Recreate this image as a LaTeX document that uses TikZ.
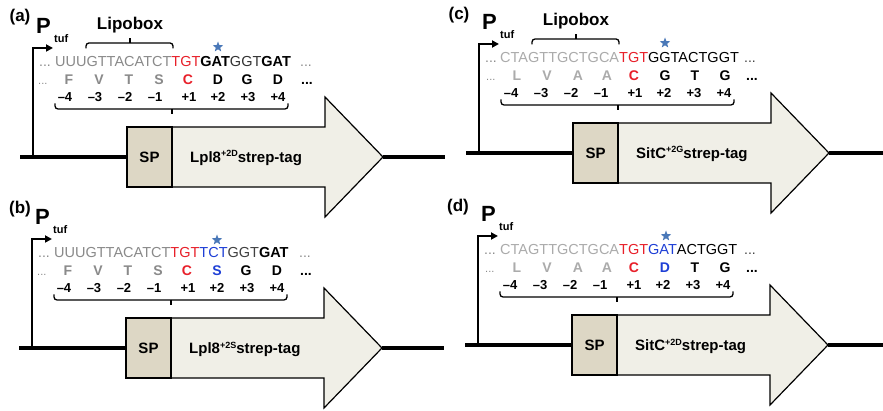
\documentclass[tikz,border=0pt]{standalone}
\usepackage{fontspec}
\setmainfont{Liberation Sans}
\usetikzlibrary{arrows.meta,shapes.geometric}
\definecolor{redc}{HTML}{E8202A}
\definecolor{bluec}{HTML}{1E3FD6}
\definecolor{starc}{HTML}{4A78B8}
\definecolor{grayA}{HTML}{8A8A8A}
\definecolor{grayC}{HTML}{ABABAB}
\definecolor{spfill}{HTML}{DDD7C5}
\definecolor{genefill}{HTML}{F0EFE7}
\tikzset{
 lbl/.style={font=\fontsize{17}{17}\selectfont\bfseries, inner sep=0},
 ptxt/.style={font=\fontsize{22}{22}\selectfont\bfseries, inner sep=0, anchor=base west},
 tuf/.style={font=\fontsize{11}{11}\selectfont\bfseries, inner sep=0, anchor=base west},
 lipo/.style={font=\fontsize{17}{17}\selectfont\bfseries, inner sep=0, anchor=base},
 seq/.style={font=\fontsize{14.5}{15}\selectfont, inner sep=0, anchor=base west},
 dots/.style={font=\fontsize{14}{14}\selectfont, inner sep=0, anchor=base west},
 aa/.style={font=\fontsize{14}{14}\selectfont\bfseries, inner sep=0, anchor=base},
 num/.style={font=\fontsize{13}{13}\selectfont\bfseries, inner sep=0, anchor=base},
 brace/.style={line width=1.3pt},
 spbox/.style={draw, line width=1.2pt, fill=spfill, minimum width=45pt, minimum height=60pt, inner sep=0, outer sep=0, font=\fontsize{15}{15}\selectfont\bfseries},
 genebody/.style={draw, line width=1.2pt, fill=genefill, line join=miter},
 gtext/.style={font=\fontsize{15}{15}\selectfont\bfseries, inner sep=0, anchor=base west},
 baseln/.style={line width=3.5pt},
 prom/.style={line width=2.5pt, -{Triangle[length=7pt,width=7pt]}},
 divider/.style={line width=2.5pt},
 staricon/.style={star, star points=5, star point ratio=2.4, fill=starc, inner sep=0, minimum size=11pt},
}
% gene part: #1 prefix, #2 label, #3 right end x
\newcommand\genegroup[3]{%
  \filldraw[genebody] (172,127) -- (325,127) -- (325,97) -- (383,157) -- (325,217) -- (325,187) -- (172,187) -- cycle;
  \node[spbox] (#1sp) at (149.5,157) {SP};
  \coordinate (#1tip) at (383,157);
  \coordinate (#1end) at (#3,157);
  \coordinate (#1start) at (20,157);
  \coordinate (#1pb) at (33,157);
  \coordinate (#1pe) at (53,48);
  \draw[divider] (#1sp.north east) -- (#1sp.south east);
  \draw[baseln] (#1start) -- (#1sp.west);
  \draw[baseln] (#1tip) -- (#1end);
  \draw[prom] (#1pb) |- (#1pe);
  \node[ptxt] (#1P) at (36,34) {P};
  \node[tuf] (#1tuf) at (54,43) {tuf};
  \node[gtext] (#1gene) at (190,162.5) {#2};
}
% numbers and lower bracket
\newcommand\numgroup[1]{%
  \foreach \x/\t in {65/–4, 95/–3, 125/–2, 155/–1, 189/+1, 218/+2, 248/+3, 278/+4}
    \node[num] (#1n\x) at (\x,102) {\t};
  \draw[brace, rounded corners=3pt] (55,103.5) -- (55,109) -- (288,109) -- (288,103.5);
  \draw[brace] (172,109) -- (172,114);
}
\newcommand\lipogroup[1]{%
  \node[lipo] (#1lipo) at (130,30) {Lipobox};
  \draw[brace, rounded corners=3pt] (86,48.5) -- (86,43) -- (173,43) -- (173,48.5);
  \draw[brace] (130,43) -- (130,38.5);
}
\begin{document}
\begin{tikzpicture}[x=1pt,y=-1pt]
\useasboundingbox (0,0) rectangle (883,411);
\fill[white] (0,0) rectangle (883,411);

% panel labels
\node[lbl] (la) at (20,17) {(a)};
\node[lbl] (lb) at (20,209) {(b)};
\node[lbl] (lc) at (459,15) {(c)};
\node[lbl] (ld) at (458,207) {(d)};

% ---------- (a)
\begin{scope}
  \genegroup{a}{Lpl8\raisebox{5.5pt}{\fontsize{9}{9}\selectfont +2D}strep-tag}{445}
  \lipogroup{a}
  \node[staricon] (astar) at (218,47) {};
  \node[dots, text=grayA, anchor=base east] (adl) at (51,67) {...};
  \node[seq, text=grayA] (adna) at (55,67) {UUUGTTACATCT\textcolor{redc}{TGT}\textcolor{black}{\bfseries GAT}\textcolor{black!80}{GGT}\textcolor{black}{\bfseries GAT}};
  \node[dots, text=grayA] (adr) at (300,67) {...};
  \node[dots, text=grayA, font=\fontsize{11}{11}\selectfont] (aal) at (38,85) {...};
  \foreach \x/\t/\c in {69/F/grayA, 99/V/grayA, 129/T/grayA, 159/S/grayA, 188/C/redc, 218/D/black, 247/G/black, 278/D/black}
    \node[aa, text=\c] (aa\x) at (\x,85) {\t};
  \node[dots, font=\fontsize{14}{14}\selectfont\bfseries] (aar) at (301,85) {...};
  \numgroup{a}
\end{scope}

% ---------- (b)
\begin{scope}[shift={(-1,191)}]
  \genegroup{b}{Lpl8\raisebox{5.5pt}{\fontsize{9}{9}\selectfont +2S}strep-tag}{445}
  \node[staricon] (bstar) at (218,49) {};
  \node[dots, text=grayA, anchor=base east] (bdl) at (51,67) {...};
  \node[seq, text=grayA] (bdna) at (55,67) {UUUGTTACATCT\textcolor{redc}{TGT}\textcolor{bluec}{TCT}\textcolor{black!75}{GGT}\textcolor{black}{\bfseries GAT}};
  \node[dots, text=grayA] (bdr) at (300,67) {...};
  \node[dots, text=grayA, font=\fontsize{11}{11}\selectfont] (bal) at (38,85) {...};
  \foreach \x/\t/\c in {69/F/grayA, 99/V/grayA, 129/T/grayA, 159/S/grayA, 188/C/redc, 218/S/bluec, 247/G/black, 278/D/black}
    \node[aa, text=\c] (ba\x) at (\x,85) {\t};
  \node[dots, font=\fontsize{14}{14}\selectfont\bfseries] (bar) at (301,85) {...};
  \numgroup{b}
\end{scope}

% ---------- (c)
\begin{scope}[shift={(446,-4)}]
  \genegroup{c}{SitC\raisebox{5.5pt}{\fontsize{9}{9}\selectfont +2G}strep-tag}{437}
  \lipogroup{c}
  \node[staricon] (cstar) at (219,47) {};
  \node[dots, text=grayA, anchor=base east] (cdl) at (51,67) {...};
  \node[seq, text=grayC] (cdna) at (54,67) {CTAGTTGCTGCA\textcolor{redc}{TGT}\textcolor{black}{GGTACTGGT}};
  \node[dots, text=black!75] (cdr) at (298,67) {...};
  \node[dots, text=grayA, font=\fontsize{11}{11}\selectfont] (cal) at (40,85) {...};
  \foreach \x/\t/\c in {71/L/grayC, 101/V/grayC, 132/A/grayC, 161/A/grayC, 188/C/redc, 219/G/black, 249/T/black, 279/G/black}
    \node[aa, text=\c] (ca\x) at (\x,85) {\t};
  \node[dots, font=\fontsize{14}{14}\selectfont\bfseries] (car) at (300,85) {...};
  \numgroup{c}
\end{scope}

% ---------- (d)
\begin{scope}[shift={(445,188)}]
  \genegroup{d}{SitC\raisebox{5.5pt}{\fontsize{9}{9}\selectfont +2D}strep-tag}{438}
  \node[staricon] (dstar) at (221,48) {};
  \node[dots, text=grayA, anchor=base east] (ddl) at (51,67) {...};
  \node[seq, text=grayC] (ddna) at (55,67) {CTAGTTGCTGCA\textcolor{redc}{TGT}\textcolor{bluec}{GAT}\textcolor{black}{ACTGGT}};
  \node[dots, text=black!75] (ddr) at (299,67) {...};
  \node[dots, text=grayA, font=\fontsize{11}{11}\selectfont] (dal) at (40,85) {...};
  \foreach \x/\t/\c in {72/L/grayC, 102/V/grayC, 133/A/grayC, 162/A/grayC, 189/C/redc, 220/D/bluec, 250/T/black, 280/G/black}
    \node[aa, text=\c] (da\x) at (\x,85) {\t};
  \node[dots, font=\fontsize{14}{14}\selectfont\bfseries] (dar) at (301,85) {...};
  \numgroup{d}
\end{scope}
\end{tikzpicture}
\end{document}
